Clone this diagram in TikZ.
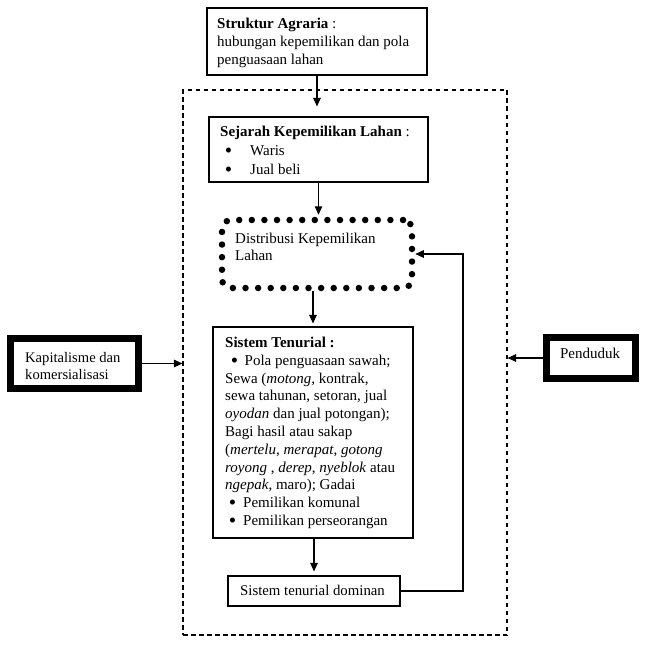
\documentclass[tikz,border=0pt]{standalone}
\usepackage{fontspec}
\usepackage{graphicx}
\setmainfont{Liberation Serif}
\usetikzlibrary{arrows.meta}
\newcommand\mybul{\makebox[5.5pt]{\raisebox{-2pt}[0pt][0pt]{\scalebox{1.4}{\textbullet}}}}
\begin{document}
\begin{tikzpicture}[x=1pt,y=-1pt,
  box/.style={draw, line width=1.1pt, inner sep=0pt},
  thickbox/.style={draw, line width=7pt, inner sep=0pt},
  dotbox/.style={draw, line width=6.5pt, dash pattern=on 0pt off 12.6pt, line cap=round, rounded corners=9pt, inner sep=0pt},
  outerbox/.style={draw, line width=1.1pt, dash pattern=on 4.5pt off 3.5pt, inner sep=0pt},
  txt/.style={inner sep=0pt, anchor=north west, align=left},
  arr/.style={line width=1.1pt, -{Triangle[length=8.5pt,width=7.5pt]}},
  conn/.style={line width=1.1pt}
]
\useasboundingbox (0,0) rectangle (645,661);

% outer dashed frame
\node[outerbox, minimum width=324pt, minimum height=545pt] (outer) at (345,362.5) {};

% boxes
\node[box, minimum width=220pt, minimum height=67pt] (s1) at (317,41.5) {};
\node[txt, font=\fontsize{15}{18.2}\selectfont] (s1t) at (217,17.8)
  {\textbf{Struktur Agraria} :\\hubungan kepemilikan dan pola\\penguasaan lahan};

\node[box, minimum width=219pt, minimum height=65pt] (s2) at (318.5,149.5) {};
\node[txt, font=\fontsize{15}{19}\selectfont] (s2t) at (220,125.8)
  {\textbf{Sejarah Kepemilikan Lahan} :\\
   \hspace*{5.5pt}\mybul\hspace*{19pt}Waris\\
   \hspace*{5.5pt}\mybul\hspace*{19pt}Jual beli};

\node[dotbox, minimum width=190pt, minimum height=68pt] (dist) at (317,254) {};
\node[txt, font=\fontsize{15}{17}\selectfont] (distt) at (235,233)
  {Distribusi Kepemilikan\\Lahan};

\node[box, minimum width=200pt, minimum height=211pt] (s3) at (313,432.5) {};
\node[txt, font=\fontsize{15}{17.8}\selectfont] (s3t) at (225,336.8)
  {\textbf{Sistem Tenurial :}\\
   \hspace*{6.5pt}\mybul\hspace*{7.5pt}Pola penguasaan sawah;\\
   Sewa (\textit{motong,} kontrak,\\
   sewa tahunan, setoran, jual\\
   \textit{oyodan} dan jual potongan);\\
   Bagi hasil atau sakap\\
   (\textit{mertelu}, \textit{merapat}, \textit{gotong}\\
   \textit{royong} , \textit{derep}, \textit{nyeblok} atau\\
   \textit{ngepak}, maro); Gadai\\
   \hspace*{4.5pt}\mybul\hspace*{8pt}Pemilikan komunal\\
   \hspace*{4.5pt}\mybul\hspace*{8pt}Pemilikan perseorangan};

\node[box, minimum width=172pt, minimum height=30pt] (s4) at (314,591) {};
\node[inner sep=0pt, anchor=base, font=\fontsize{14.8}{17}\selectfont] (s4t) at (312.5,595) {Sistem tenurial dominan};

\node[thickbox, minimum width=128pt, minimum height=50pt] (kap) at (74.5,363.5) {};
\node[txt, font=\fontsize{14.6}{17}\selectfont] (kapt) at (25,351.8)
  {Kapitalisme dan\\komersialisasi};

\node[thickbox, minimum width=89pt, minimum height=41pt] (pend) at (591,358) {};
\node[inner sep=0pt, anchor=base, font=\fontsize{15}{17}\selectfont] (pendt) at (590,358) {Penduduk};

% connectors
\draw[arr, shorten >=10pt] (s1.south) -- (s1.south |- s2.north);
\draw[arr, shorten >=2pt] (s2.south) -- (s2.south |- dist.north);
\draw[arr, shorten >=3pt] (s3.north |- dist.south) -- (s3.north);
\draw[arr, shorten >=4pt] (s4.north |- s3.south) -- (s4.north);
\coordinate (fb) at (463,591);
\draw[arr] (s4.east) -- (fb) |- (dist.east);
\draw[arr] (kap.east) -- (kap.east -| outer.west);
\draw[arr] (pend.west) -- (pend.west -| outer.east);
\end{tikzpicture}
\end{document}
